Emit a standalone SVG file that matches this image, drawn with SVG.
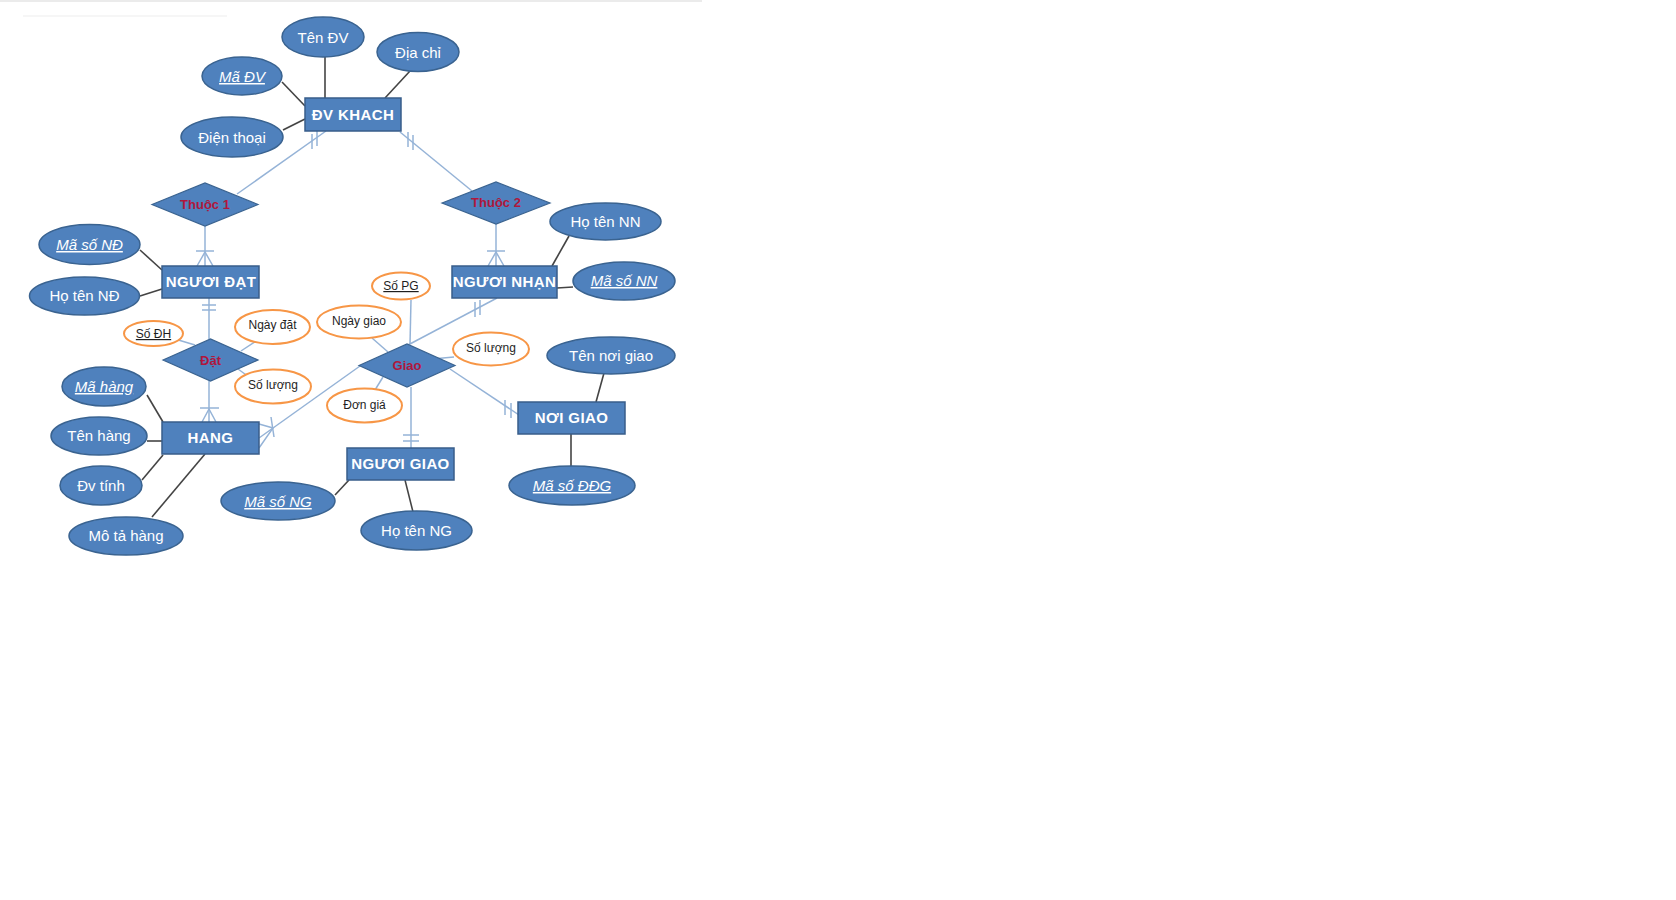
<svg xmlns="http://www.w3.org/2000/svg" width="1676" height="900" viewBox="0 0 1676 900">
  <style>
    text { font-family: "Liberation Sans", Arial, sans-serif; text-anchor: middle; }
    .attr ellipse { fill: #4F81BD; stroke: #3A6390; stroke-width: 1.5; }
    .attr text { fill: #ffffff; font-size: 15px; }
    .key text { font-style: italic; text-decoration: underline; }
    .ent rect { fill: #4F81BD; stroke: #385D8A; stroke-width: 1.5; }
    .ent text { fill: #ffffff; font-size: 15px; font-weight: bold; letter-spacing: 0.4px; }
    .rel polygon { fill: #4F81BD; stroke: #3A6390; stroke-width: 1.2; }
    .rel text { fill: #B0173C; font-size: 13px; font-weight: bold; }
    .ra ellipse { fill: #ffffff; stroke: #F79646; stroke-width: 2; }
    .ra text { fill: #1e1e1e; font-size: 12px; }
    .ra.key text { font-style: normal; }
    .link { stroke: #444444; stroke-width: 1.6; fill: none; }
    .rline { stroke: #95B3D7; stroke-width: 1.5; fill: none; }
  </style>

  <!-- page edge -->
  <rect x="0" y="0" width="702" height="2" fill="#ebebeb"/>
  <line x1="23" y1="16" x2="227" y2="16" stroke="#f3f3f3" stroke-width="1.5"/>

  <!-- connectors -->
  <g id="connectors">
    <!-- attribute links -->
    <line class="link" x1="325" y1="57" x2="325" y2="98"/>
    <line class="link" x1="282" y1="82" x2="305" y2="106"/>
    <line class="link" x1="283" y1="130" x2="305" y2="119"/>
    <line class="link" x1="410" y1="71" x2="385" y2="98"/>
    <line class="link" x1="140" y1="250" x2="162" y2="270"/>
    <line class="link" x1="140" y1="296" x2="162" y2="289"/>
    <line class="link" x1="569" y1="236" x2="552" y2="266"/>
    <line class="link" x1="557" y1="288" x2="573" y2="287"/>
    <line class="link" x1="147" y1="395" x2="163" y2="422"/>
    <line class="link" x1="147" y1="441" x2="163" y2="441"/>
    <line class="link" x1="142" y1="480" x2="163" y2="455"/>
    <line class="link" x1="152" y1="517" x2="205" y2="454"/>
    <line class="link" x1="335" y1="495" x2="349" y2="480"/>
    <line class="link" x1="405" y1="480" x2="413" y2="512"/>
    <line class="link" x1="604" y1="373" x2="596" y2="402"/>
    <line class="link" x1="571" y1="434" x2="571" y2="466"/>

    <!-- ĐV KHACH – Thuộc 1 -->
    <line class="rline" x1="326" y1="131" x2="237" y2="194"/>
    <line class="rline" x1="312" y1="134" x2="312" y2="149"/>
    <line class="rline" x1="317" y1="131" x2="317" y2="146"/>
    <!-- ĐV KHACH – Thuộc 2 -->
    <line class="rline" x1="400" y1="132" x2="472" y2="191"/>
    <line class="rline" x1="408" y1="132" x2="408" y2="147"/>
    <line class="rline" x1="413" y1="135" x2="413" y2="150"/>

    <!-- Thuộc 1 – NGƯƠI ĐẠT -->
    <line class="rline" x1="205" y1="226" x2="205" y2="266"/>
    <line class="rline" x1="196" y1="251" x2="214" y2="251"/>
    <polyline class="rline" points="197,266 205,252 213,266"/>
    <!-- Thuộc 2 – NGƯƠI NHẠN -->
    <line class="rline" x1="496" y1="224" x2="496" y2="266"/>
    <line class="rline" x1="487" y1="251" x2="505" y2="251"/>
    <polyline class="rline" points="488,266 496,252 504,266"/>

    <!-- NGƯƠI ĐẠT – Đặt -->
    <line class="rline" x1="209" y1="298" x2="209" y2="339"/>
    <line class="rline" x1="202" y1="305" x2="216" y2="305"/>
    <line class="rline" x1="202" y1="310" x2="216" y2="310"/>
    <!-- Đặt – HANG -->
    <line class="rline" x1="209" y1="381" x2="209" y2="422"/>
    <line class="rline" x1="200" y1="408" x2="219" y2="408"/>
    <polyline class="rline" points="202,422 209,409 216,422"/>
    <!-- Đặt attributes -->
    <line class="rline" x1="175" y1="339" x2="195" y2="345"/>
    <line class="rline" x1="256" y1="341" x2="241" y2="351"/>
    <line class="rline" x1="238" y1="369" x2="249" y2="377"/>

    <!-- Giao – HANG -->
    <line class="rline" x1="360" y1="366" x2="259" y2="438"/>
    <line class="rline" x1="271" y1="417" x2="274" y2="437"/>
    <polyline class="rline" points="259,424 273,428 259,448"/>
    <!-- Giao – NGƯƠI NHẠN -->
    <line class="rline" x1="408" y1="345" x2="497" y2="298"/>
    <line class="rline" x1="475" y1="302" x2="475" y2="317"/>
    <line class="rline" x1="480" y1="300" x2="480" y2="315"/>
    <!-- Giao – NGƯƠI GIAO -->
    <line class="rline" x1="411" y1="387" x2="411" y2="448"/>
    <line class="rline" x1="403" y1="435" x2="419" y2="435"/>
    <line class="rline" x1="403" y1="441" x2="419" y2="441"/>
    <!-- Giao – NƠI GIAO -->
    <line class="rline" x1="450" y1="369" x2="519" y2="415"/>
    <line class="rline" x1="505" y1="400" x2="505" y2="415"/>
    <line class="rline" x1="511" y1="403" x2="511" y2="418"/>
    <!-- Giao attributes -->
    <line class="rline" x1="411" y1="300" x2="410" y2="344"/>
    <line class="rline" x1="372" y1="338" x2="388" y2="352"/>
    <line class="rline" x1="432" y1="359" x2="454" y2="357"/>
    <line class="rline" x1="383" y1="377" x2="375" y2="390"/>
  </g>

  <!-- ĐV KHACH -->
  <g id="dv-khach" class="ent">
    <rect x="305" y="98" width="96" height="33"/>
    <text x="353" y="120">ĐV KHACH</text>
  </g>
  <g id="ten-dv" class="attr">
    <ellipse cx="323" cy="37" rx="41" ry="20"/>
    <text x="323" y="43">Tên ĐV</text>
  </g>
  <g id="ma-dv" class="attr key">
    <ellipse cx="242" cy="76" rx="40" ry="19"/>
    <text x="242" y="82">Mã ĐV</text>
  </g>
  <g id="dien-thoai" class="attr">
    <ellipse cx="232" cy="137" rx="51" ry="20"/>
    <text x="232" y="143">Điện thoại</text>
  </g>
  <g id="dia-chi" class="attr">
    <ellipse cx="418" cy="52" rx="41" ry="19.5"/>
    <text x="418" y="58">Địa chỉ</text>
  </g>

  <!-- Thuộc 1 / Thuộc 2 -->
  <g id="thuoc-1" class="rel">
    <polygon points="152,204.5 205,183 258,204.5 205,226"/>
    <text x="205" y="209">Thuộc 1</text>
  </g>
  <g id="thuoc-2" class="rel">
    <polygon points="442,203 496,182 550,203 496,224"/>
    <text x="496" y="207">Thuộc 2</text>
  </g>

  <!-- NGƯƠI ĐẠT -->
  <g id="nguoi-dat" class="ent">
    <rect x="162" y="266" width="97" height="32"/>
    <text x="211" y="287">NGƯƠI ĐẠT</text>
  </g>
  <g id="ma-so-nd" class="attr key">
    <ellipse cx="89.5" cy="244.5" rx="50.5" ry="20"/>
    <text x="89.5" y="250">Mã số NĐ</text>
  </g>
  <g id="ho-ten-nd" class="attr">
    <ellipse cx="84.5" cy="296" rx="55" ry="19"/>
    <text x="84.5" y="301">Họ tên NĐ</text>
  </g>

  <!-- NGƯƠI NHẠN -->
  <g id="nguoi-nhan" class="ent">
    <rect x="452" y="266" width="105" height="32"/>
    <text x="504.5" y="287">NGƯƠI NHẠN</text>
  </g>
  <g id="ho-ten-nn" class="attr">
    <ellipse cx="605.5" cy="221.5" rx="55.5" ry="18.5"/>
    <text x="605.5" y="227">Họ tên NN</text>
  </g>
  <g id="ma-so-nn" class="attr key">
    <ellipse cx="624" cy="281" rx="51" ry="19"/>
    <text x="624" y="286">Mã số NN</text>
  </g>

  <!-- Đặt -->
  <g id="dat" class="rel">
    <polygon points="163,360 210.5,339 258,360 210.5,381"/>
    <text x="210.5" y="365">Đặt</text>
  </g>
  <g id="so-dh" class="ra key">
    <ellipse cx="153.5" cy="333.5" rx="29.5" ry="12.5"/>
    <text x="153.5" y="338">Số ĐH</text>
  </g>
  <g id="ngay-dat" class="ra">
    <ellipse cx="272.5" cy="327" rx="37.5" ry="17"/>
    <text x="272.5" y="329">Ngày đặt</text>
  </g>
  <g id="so-luong-dat" class="ra">
    <ellipse cx="273" cy="386.5" rx="38" ry="17"/>
    <text x="273" y="389">Số lượng</text>
  </g>

  <!-- Giao -->
  <g id="giao" class="rel">
    <polygon points="359,365.5 407,344 455,365.5 407,387"/>
    <text x="407" y="370">Giao</text>
  </g>
  <g id="so-pg" class="ra key">
    <ellipse cx="401" cy="286" rx="29" ry="13.5"/>
    <text x="401" y="290">Số PG</text>
  </g>
  <g id="ngay-giao" class="ra">
    <ellipse cx="359" cy="322" rx="42" ry="16.5"/>
    <text x="359" y="325">Ngày giao</text>
  </g>
  <g id="so-luong-giao" class="ra">
    <ellipse cx="491" cy="349" rx="38" ry="16.5"/>
    <text x="491" y="352">Số lượng</text>
  </g>
  <g id="don-gia" class="ra">
    <ellipse cx="364.5" cy="405.5" rx="37.5" ry="17"/>
    <text x="364.5" y="409">Đơn giá</text>
  </g>

  <!-- HANG -->
  <g id="hang" class="ent">
    <rect x="162" y="422" width="97" height="32"/>
    <text x="210.5" y="443">HANG</text>
  </g>
  <g id="ma-hang" class="attr key">
    <ellipse cx="104" cy="386.5" rx="42" ry="19.5"/>
    <text x="104" y="392">Mã hàng</text>
  </g>
  <g id="ten-hang" class="attr">
    <ellipse cx="99" cy="436" rx="48" ry="19"/>
    <text x="99" y="441">Tên hàng</text>
  </g>
  <g id="dv-tinh" class="attr">
    <ellipse cx="101" cy="485.5" rx="41" ry="19.5"/>
    <text x="101" y="491">Đv tính</text>
  </g>
  <g id="mo-ta-hang" class="attr">
    <ellipse cx="126" cy="536" rx="57" ry="19"/>
    <text x="126" y="541">Mô tả hàng</text>
  </g>

  <!-- NGƯƠI GIAO -->
  <g id="nguoi-giao" class="ent">
    <rect x="347" y="448" width="107" height="32"/>
    <text x="400.5" y="469">NGƯƠI GIAO</text>
  </g>
  <g id="ma-so-ng" class="attr key">
    <ellipse cx="278" cy="501" rx="57" ry="19"/>
    <text x="278" y="507">Mã số NG</text>
  </g>
  <g id="ho-ten-ng" class="attr">
    <ellipse cx="416.5" cy="530.5" rx="55.5" ry="19.5"/>
    <text x="416.5" y="536">Họ tên NG</text>
  </g>

  <!-- NƠI GIAO -->
  <g id="noi-giao" class="ent">
    <rect x="518" y="402" width="107" height="32"/>
    <text x="571.5" y="423">NƠI GIAO</text>
  </g>
  <g id="ten-noi-giao" class="attr">
    <ellipse cx="611" cy="355.5" rx="64" ry="18.5"/>
    <text x="611" y="361">Tên nơi giao</text>
  </g>
  <g id="ma-so-ddg" class="attr key">
    <ellipse cx="572" cy="485.5" rx="63" ry="19.5"/>
    <text x="572" y="491">Mã số ĐĐG</text>
  </g>
</svg>
